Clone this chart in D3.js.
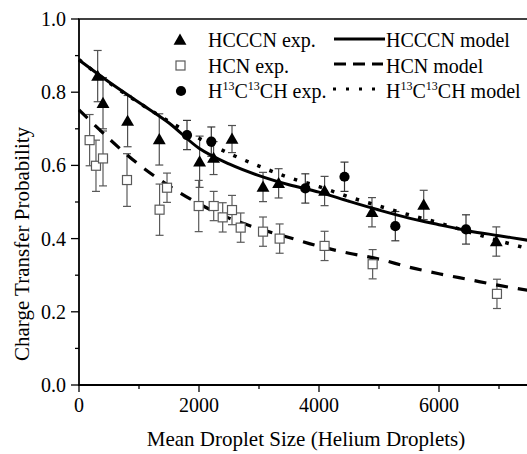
<!DOCTYPE html>
<html><head><meta charset="utf-8">
<script src="https://cdn.jsdelivr.net/npm/d3@7"></script>
<style>body{margin:0;background:#fff}svg{display:block}text{font-family:"Liberation Serif","Times New Roman",serif;fill:#000}</style>
</head><body><svg id="c" width="527" height="454"></svg>
<script>
// HCCCN experimental [x, y, err]
const hcccnX = [311, 400, 810, 1338, 2010, 2243, 2550, 3067, 3327, 4093, 4883, 5745, 6955];
const hcccnY = [0.844, 0.770, 0.721, 0.671, 0.610, 0.620, 0.672, 0.541, 0.551, 0.530, 0.472, 0.492, 0.392];
const hcccnE = [0.07, 0.07, 0.07, 0.07, 0.07, 0.045, 0.037, 0.04, 0.04, 0.04, 0.04, 0.04, 0.04];
// HCN experimental
const hcnX = [177, 283, 400, 800, 1343, 1467, 1995, 2245, 2395, 2550, 2695, 3067, 3344, 4093, 4894, 6966];
const hcnY = [0.669, 0.599, 0.619, 0.560, 0.479, 0.539, 0.489, 0.489, 0.458, 0.478, 0.430, 0.419, 0.400, 0.380, 0.330, 0.249];
const hcnE = [0.07, 0.07, 0.075, 0.072, 0.07, 0.04, 0.07, 0.04, 0.04, 0.04, 0.04, 0.04, 0.04, 0.04, 0.04, 0.04];
// H13C13CH experimental
const ccX = [1800, 2205, 3772, 4425, 5272, 6450];
const ccY = [0.683, 0.665, 0.537, 0.569, 0.434, 0.425];
const ccE = [0.04, 0.04, 0.04, 0.04, 0.04, 0.04];
// model curves
const modelX = [0, 500, 1000, 1500, 2000, 2500, 3000, 3500, 4000, 4500, 5000, 5500, 6000, 6500, 7000, 7500];
const hcccnModel = [0.888, 0.828, 0.772, 0.716, 0.647, 0.604, 0.572, 0.547, 0.527, 0.502, 0.478, 0.456, 0.438, 0.421, 0.408, 0.395];
const hcnModel = [0.752, 0.673, 0.602, 0.544, 0.495, 0.456, 0.427, 0.403, 0.379, 0.360, 0.344, 0.322, 0.304, 0.288, 0.272, 0.258];
const ccModel = [0.889, 0.826, 0.771, 0.720, 0.674, 0.633, 0.598, 0.567, 0.542, 0.514, 0.489, 0.465, 0.443, 0.418, 0.394, 0.372];
// axes
const xTicks = [0, 2000, 4000, 6000];
const xMinor = [1000, 3000, 5000, 7000];
const yTicks = [0, 0.2, 0.4, 0.6, 0.8, 1.0];
const yMinor = [0.1, 0.3, 0.5, 0.7, 0.9];

const svg = d3.select("#c");
const x = d3.scaleLinear().domain([0, 7500]).range([79, 529]);
const y = d3.scaleLinear().domain([0, 1]).range([385, 19]);

// error bars
function errBars(xs, ys, es, color) {
  const g = svg.append("g").attr("stroke", color).attr("stroke-width", 1.2).attr("fill", "none");
  xs.forEach((xv, i) => {
    const px = x(xv), t = y(ys[i] + es[i]), b = y(ys[i] - es[i]);
    g.append("line").attr("x1", px).attr("x2", px).attr("y1", t).attr("y2", b);
    g.append("line").attr("x1", px - 4).attr("x2", px + 4).attr("y1", t).attr("y2", t);
    g.append("line").attr("x1", px - 4).attr("x2", px + 4).attr("y1", b).attr("y2", b);
  });
}
errBars(hcnX, hcnY, hcnE, "#5a5a5a");
errBars(hcccnX, hcccnY, hcccnE, "#505050");
errBars(ccX, ccY, ccE, "#333");

// model lines
const line = (ys) => d3.line().x((d, i) => x(modelX[i])).y(d => y(d)).curve(d3.curveCatmullRom)(ys);
svg.append("path").attr("d", line(hcccnModel)).attr("fill", "none").attr("stroke", "#000").attr("stroke-width", 3);
svg.append("path").attr("d", line(hcnModel)).attr("fill", "none").attr("stroke", "#000").attr("stroke-width", 3.2).attr("stroke-dasharray", "12,10");
svg.append("path").attr("d", line(ccModel)).attr("fill", "none").attr("stroke", "#000").attr("stroke-width", 3.5).attr("stroke-dasharray", "3.5,9.5");

// markers
const tri = d3.symbol().type(d3.symbolTriangle).size(72);
const circ = d3.symbol().type(d3.symbolCircle).size(82);
svg.append("g").selectAll("rect").data(hcnX).join("rect")
  .attr("x", d => x(d) - 4.5).attr("y", (d, i) => y(hcnY[i]) - 4.5).attr("width", 9).attr("height", 9)
  .attr("fill", "#fff").attr("stroke", "#5a5a5a").attr("stroke-width", 1.2);
svg.append("g").selectAll("path").data(hcccnX).join("path")
  .attr("d", tri).attr("transform", (d, i) => `translate(${x(d)},${y(hcccnY[i]) + 1})`).attr("fill", "#000");
svg.append("g").selectAll("path").data(ccX).join("path")
  .attr("d", circ).attr("transform", (d, i) => `translate(${x(d)},${y(ccY[i])})`).attr("fill", "#000");

// axes
const ax = svg.append("g").attr("stroke", "#000");
ax.append("line").attr("x1", 79).attr("x2", 79).attr("y1", 19).attr("y2", 385).attr("stroke-width", 1.8);
ax.append("line").attr("x1", 78).attr("x2", 527).attr("y1", 385).attr("y2", 385).attr("stroke-width", 1.8);
ax.append("line").attr("x1", 78).attr("x2", 527).attr("y1", 19).attr("y2", 19).attr("stroke-width", 1.5);
xTicks.forEach(t => ax.append("line").attr("x1", x(t)).attr("x2", x(t)).attr("y1", 385).attr("y2", 392).attr("stroke-width", 1.3));
xMinor.forEach(t => ax.append("line").attr("x1", x(t)).attr("x2", x(t)).attr("y1", 385).attr("y2", 389).attr("stroke-width", 1.3));
yTicks.forEach(t => ax.append("line").attr("x1", 71).attr("x2", 79).attr("y1", y(t)).attr("y2", y(t)).attr("stroke-width", 1.3));
yMinor.forEach(t => ax.append("line").attr("x1", 75).attr("x2", 79).attr("y1", y(t)).attr("y2", y(t)).attr("stroke-width", 1.3));

svg.append("g").selectAll("text").data(xTicks).join("text")
  .attr("x", d => x(d)).attr("y", 412).attr("text-anchor", "middle").attr("font-size", 20).text(d => d);
svg.append("g").selectAll("text").data(yTicks).join("text")
  .attr("x", 66).attr("y", d => y(d) + 7).attr("text-anchor", "end").attr("font-size", 20).text(d => d.toFixed(1));

svg.append("text").attr("x", 306).attr("y", 446).attr("text-anchor", "middle").attr("font-size", 21)
  .text("Mean Droplet Size (Helium Droplets)");
svg.append("text").attr("transform", "translate(29,244) rotate(-90)").attr("text-anchor", "middle").attr("font-size", 21)
  .text("Charge Transfer Probability");

// legend
const rows = [40, 65.5, 91];
svg.append("path").attr("d", tri).attr("transform", `translate(180,${rows[0] + 1})`).attr("fill", "#000");
svg.append("rect").attr("x", 176).attr("y", rows[1] - 4.5).attr("width", 9).attr("height", 9).attr("fill", "#fff").attr("stroke", "#5a5a5a").attr("stroke-width", 1.2);
svg.append("path").attr("d", circ).attr("transform", `translate(181,${rows[2]})`).attr("fill", "#000");

function label(xp, yp, parts) {
  const t = svg.append("text").attr("x", xp).attr("y", yp).attr("font-size", 20);
  parts.forEach(p => {
    if (p[1]) t.append("tspan").attr("font-size", 12).attr("dy", -8).text(p[0]);
    else t.append("tspan").attr("dy", p[2] ? 8 : 0).text(p[0]);
  });
}
label(208, rows[0] + 7, [["HCCCN exp."]]);
label(208, rows[1] + 7, [["HCN exp."]]);
label(208, rows[2] + 7, [["H"], ["13", true], ["C", false, true], ["13", true], ["CH exp.", false, true]]);

svg.append("line").attr("x1", 334).attr("x2", 385).attr("y1", rows[0] - 1).attr("y2", rows[0] - 1).attr("stroke", "#000").attr("stroke-width", 3);
svg.append("line").attr("x1", 334).attr("x2", 383).attr("y1", rows[1] - 1.5).attr("y2", rows[1] - 1.5).attr("stroke", "#000").attr("stroke-width", 3.2).attr("stroke-dasharray", "12,7");
svg.append("line").attr("x1", 333).attr("x2", 385).attr("y1", rows[2] - 2).attr("y2", rows[2] - 2).attr("stroke", "#000").attr("stroke-width", 3.2).attr("stroke-dasharray", "3,10");
label(386, rows[0] + 7, [["HCCCN model"]]);
label(386, rows[1] + 7, [["HCN model"]]);
label(386, rows[2] + 7, [["H"], ["13", true], ["C", false, true], ["13", true], ["CH model", false, true]]);
</script></body></html>
